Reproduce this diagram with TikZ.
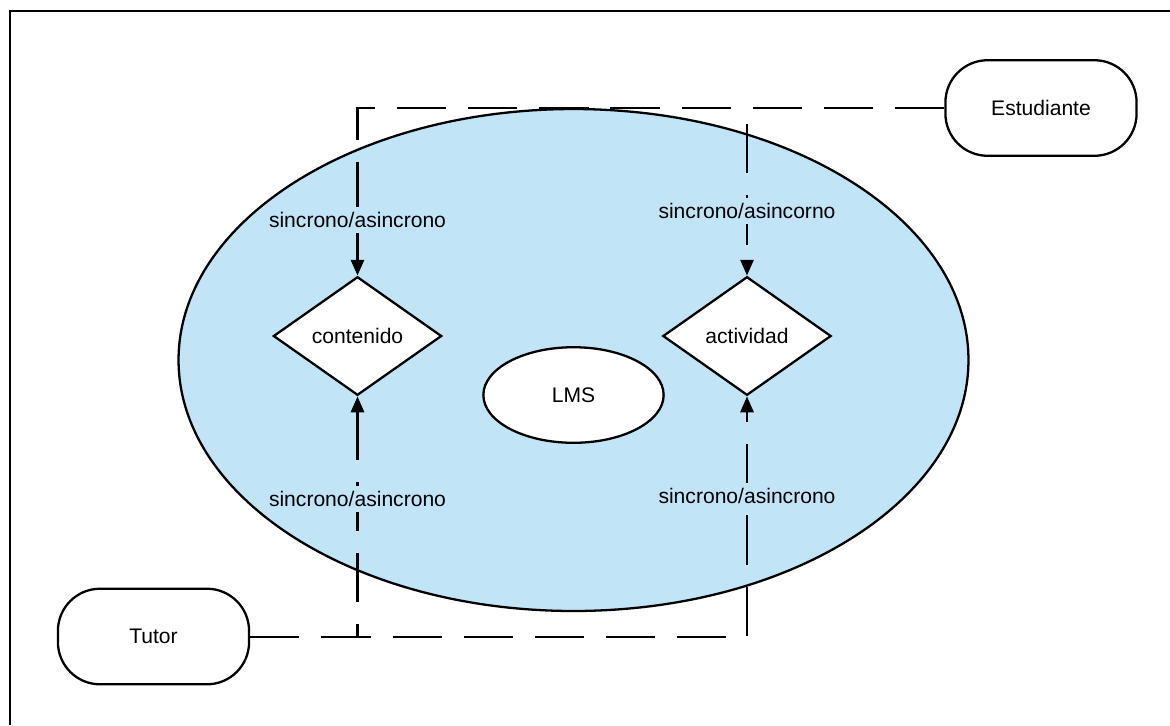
\documentclass[tikz,border=0pt]{standalone}
\usepackage{fontspec}
\setmainfont{Liberation Sans}
\usetikzlibrary{shapes.geometric,arrows.meta}
\definecolor{bluefill}{RGB}{193,228,247}
\tikzset{
  px/.style={x=0.02cm,y=-0.02cm},
  frameline/.style={line width=1.5pt},
  shapeline/.style={draw=black,line width=1.3pt},
  actor/.style={shapeline,fill=white,rounded corners=24pt,minimum width=108.8pt,minimum height=54.4pt,inner sep=0pt,font=\fontsize{12}{14}\selectfont},
  decision/.style={shapeline,fill=white,diamond,minimum width=95.8pt,minimum height=67.5pt,inner sep=0pt,font=\fontsize{12}{14}\selectfont},
  conn/.style={line width=1.3pt,dash pattern=on 28pt off 12.5pt},
  arrowconn/.style={conn,-{Triangle[length=9pt,width=7.5pt]}},
  lbl/.style={fill=bluefill,inner sep=3pt,font=\fontsize{12}{14}\selectfont},
}
\begin{document}
\begin{tikzpicture}[px]
\useasboundingbox (0,0) rectangle (1170,725);
\draw[frameline] (10,725) -- (10,11) -- (1170,11);
% main ellipse
\node[shapeline,fill=bluefill,ellipse,minimum width=449.6pt,minimum height=285.7pt,inner sep=0pt] (lmsarea) at (573.5,360) {};
\node[shapeline,fill=white,ellipse,minimum width=102.6pt,minimum height=54.4pt,inner sep=0pt,font=\fontsize{12}{14}\selectfont] (lms) at (573.5,395) {LMS};
% decisions
\node[decision] (cont) at (357.5,336) {contenido};
\node[decision] (act) at (747,336) {actividad};
% actors
\node[actor] (est) at (1041,108) {Estudiante};
\node[actor] (tutor) at (153.5,636.5) {Tutor};
% corner coordinates
\coordinate (tl) at (357.5,108);
\coordinate (tr) at (747,108);
\coordinate (bl) at (357.5,637);
\coordinate (br) at (747,637);
% connectors
\draw[arrowconn] (est.west) -- (tl) -- (cont.north);
\draw[arrowconn] (est.west) -- (tr) -- (act.north);
\draw[arrowconn] (tutor.east |- bl) -- (bl) -- (cont.south);
\draw[arrowconn] (tutor.east |- br) -- (br) -- (act.south);
% labels
\node[lbl] (l1) at (357.5,220) {sincrono/asincrono};
\node[lbl] (l2) at (747,211) {sincrono/asincorno};
\node[lbl] (l3) at (357.5,499) {sincrono/asincrono};
\node[lbl] (l4) at (747,496) {sincrono/asincrono};
\end{tikzpicture}
\end{document}
